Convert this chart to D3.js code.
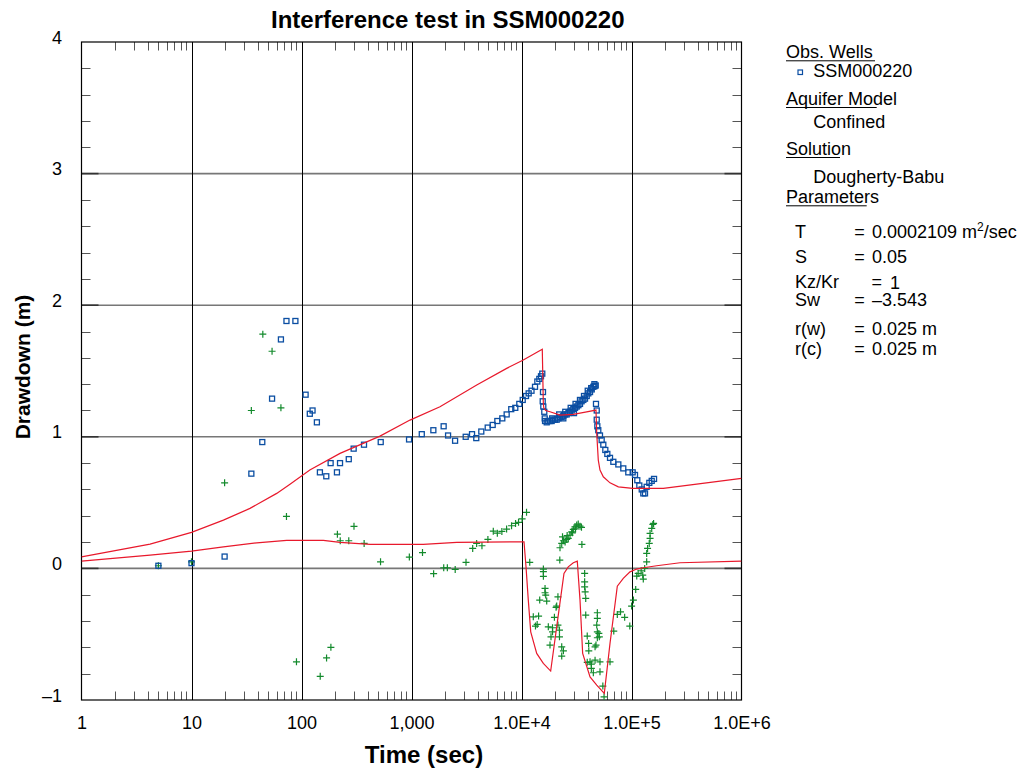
<!DOCTYPE html>
<html><head><meta charset="utf-8">
<script src="https://cdn.jsdelivr.net/npm/d3@7"></script>
<style>
body{margin:0;background:#fff}
svg{display:block}
text{font-family:"Liberation Sans",Arial,Helvetica,sans-serif;fill:#000}
</style>
</head><body>
<svg id="chart" width="1033" height="771"></svg>
<script>
// ---------- data ----------
const xTicks = [1, 10, 100, 1000, 1e4, 1e5, 1e6];
const xTickLabels = ["1", "10", "100", "1,000", "1.0E+4", "1.0E+5", "1.0E+6"];
const yTicks = [-1, 0, 1, 2, 3, 4];
const yTickLabels = ["\u20131", "0", "1", "2", "3", "4"];

// observed drawdown, SSM000220 (blue squares): [time sec, drawdown m]
const obsSquares = [
  [5,0.02],[10,0.04],[20,0.09],[35,0.72],[44,0.96],[54,1.29],[65,1.74],[73,1.88],[88,1.88],
  [109,1.32],[119,1.175],[126,1.2],[138,1.11],[147,0.73],[168,0.70],[184,0.80],[210,0.73],[224,0.80],
  [269,0.83],[298,0.91],[370,0.94],[525,0.96],[950,0.98],[1240,1.02],[1580,1.05],[1960,1.08],
  [2150,1.01],[2490,0.97],[3110,1.0],[3550,1.02],[3880,0.99],[4310,1.04],[4930,1.07],[5470,1.09],
  [6030,1.12],[6690,1.14],[7330,1.17],[8070,1.21],[8780,1.22],[9550,1.25],[10260,1.28],[10990,1.31],
  [11620,1.33],[12330,1.35],[13270,1.38],[13930,1.42],[14520,1.44],[15040,1.46],[15450,1.48],
  [15680,1.34],[15590,1.27],[15780,1.23],[16110,1.19],[16260,1.14],[16370,1.12],
  [16950,1.11],[17500,1.12],[18160,1.12],[18800,1.12],[19450,1.13],[20100,1.13],[20890,1.13],
  [21600,1.14],[22390,1.15],[23200,1.15],[23990,1.16],[24900,1.17],[25760,1.17],[26700,1.18],
  [27610,1.19],[28600,1.20],[29590,1.21],[30700,1.22],[31770,1.23],[32900,1.24],[34040,1.25],
  [35200,1.27],[36480,1.28],[37800,1.29],[39170,1.31],[40500,1.33],[41980,1.34],[43500,1.36],
  [44980,1.38],[46200,1.385],[47300,1.39],
  [19000,1.14],[22000,1.17],[24000,1.14],[25000,1.19],[28000,1.22],[30000,1.18],[31000,1.25],
  [34000,1.28],[37000,1.31],[40000,1.35],[43000,1.37],[46000,1.40],
  [47550,1.25],[48300,1.20],[48300,1.13],[48900,1.08],[49900,1.05],[51700,1.01],[53550,0.975],
  [55430,0.94],[57810,0.90],[60280,0.87],[63770,0.84],[68360,0.81],[75900,0.79],[84200,0.76],
  [93500,0.73],[102500,0.73],[107600,0.71],[112900,0.67],[117800,0.63],[123900,0.60],[128000,0.57],
  [132700,0.57],[137400,0.62],[145200,0.65],[152700,0.665],[160300,0.68]
];

// second observed series (green crosses): [time sec, drawdown m]
const obsCrosses = [
  [5,0.02],[10,0.05],[20,0.65],[35,1.2],[44.5,1.78],[54,1.65],[65,1.22],[73,0.395],[90,-0.71],
  [148,-0.82],[169,-0.68],[185,-0.6],[212,0.26],[225,0.21],[269,0.21],[300,0.32],[371,0.19],
  [523,0.05],[956,0.086],[1259,0.12],[1589,-0.04],[1963,0.005],[2118,0.005],[2496,-0.008],
  [3130,0.046],[3600,0.152],[3910,0.19],[4370,0.172],[4950,0.22],[5540,0.283],[6030,0.268],
  [6630,0.281],[7320,0.299],[8120,0.324],[8830,0.342],[9400,0.35],[10130,0.377],[11110,0.426],
  [11880,0.046],
  [15810,-0.005],[15810,-0.025],[15810,-0.06],[16370,-0.152],[16370,-0.185],[16600,-0.203],
  [14640,-0.241],[16950,-0.248],[12800,-0.368],[14300,-0.362],[13880,-0.426],[13400,-0.438],
  [21440,-0.216],[20630,-0.296],[20890,-0.286],[19920,-0.372],[21440,-0.431],[17530,-0.444],
  [19150,-0.451],[19150,-0.482],[18540,-0.52],[22140,-0.469],[22140,-0.52],[18160,-0.583],
  [23210,-0.596],[23210,-0.666],[24040,-0.626],
  [22290,0.063],[22390,0.157],[23210,0.19],[24040,0.21],[24900,0.2],[25760,0.22],[26600,0.228],
  [27610,0.253],[28600,0.278],[29590,0.296],[30600,0.316],[31770,0.329],[32800,0.337],
  [34040,0.321],[35100,0.312],[35400,0.182],[23600,0.24],[26000,0.25],[29000,0.27],[31000,0.30],
  [37500,-0.038],[37500,-0.102],[37500,-0.14],[37900,-0.178],[38360,-0.228],[38360,-0.355],
  [39590,-0.514],[40750,-0.57],[40900,-0.626],[39590,-0.714],[41980,-0.71],[43150,-0.727],
  [43150,-0.76],[44980,-0.793],[46640,-0.596],[47550,-0.583],[48920,-0.527],[48920,-0.482],
  [48300,-0.431],[48920,-0.337],[48920,-0.38],[46640,-0.697],[51700,-0.71],[51700,-0.786],
  [50500,-0.494],[51000,-0.52],[54890,-0.894],[56300,-0.976],[63770,-0.71],[69000,-0.476],
  [74300,-0.35],[79500,-0.33],[86650,-0.372],[96500,-0.438],[100200,-0.286],[104000,-0.241],
  [109200,-0.16],[111600,-0.058],[115000,-0.038],[122400,-0.018],[128000,-0.081],[126500,-0.051],
  [131800,0],[137400,0.05],[137400,0.114],[140000,0.152],[145000,0.19],[147500,0.228],
  [147500,0.266],[152700,0.304],[156300,0.334],[158800,0.342]
];

// Dougherty-Babu model curves: [time sec, drawdown m]
const fitUpper = [
  [1,0.088],[4.2,0.185],[10,0.274],[19.5,0.367],[34,0.456],[59.5,0.57],[78.6,0.64],[119,0.747],
  [224,0.874],[517,1.005],[969,1.127],[1815,1.228],[3917,1.393],[7331,1.52],[10380,1.583],
  [15450,1.666],[15790,1.254],[15950,1.22],[16600,1.2],[18160,1.19],[22390,1.165],[29560,1.17],
  [39140,1.19],[47550,1.203],[48300,1.026],[49900,0.823],[51700,0.747],[55430,0.696],[63770,0.65],
  [75900,0.62],[102500,0.608],[194500,0.608],[391500,0.641],[1e6,0.684]
];
const fitLower = [
  [1,0.055],[4.2,0.101],[10,0.131],[19.5,0.164],[39.2,0.194],[73.3,0.213],[158,0.213],[224,0.198],
  [420,0.182],[1280,0.182],[2576,0.198],[10540,0.202],[10990,0.012],[11530,-0.241],[12130,-0.482],
  [13750,-0.646],[15790,-0.722],[18420,-0.78],[20890,-0.444],[24330,-0.038],[26610,0.012],
  [29590,0.043],[32150,0.055],[34040,-0.241],[35980,-0.646],[41980,-0.824],[48300,-0.887],
  [56600,-0.95],[63770,-0.57],[74300,-0.135],[84200,-0.076],[96900,-0.026],[111500,-0.005],
  [128000,0.005],[169400,0.02],[276100,0.043],[1e6,0.055]
];

const paramNames = ["T", "S", "Kz/Kr", "Sw", "r(w)", "r(c)"];
const paramValues = ["0.0002109", "0.05", "1", "\u20133.543", "0.025 m", "0.025 m"];

// ---------- layout ----------
const svg = d3.select("#chart");
const L = 81.5, R = 741.5, T = 42, B = 700;
const x = d3.scaleLog().domain([1, 1e6]).range([L, R]);
const y = d3.scaleLinear().domain([-1, 4]).range([B, T]);

const BLUE = "#0b4ea2", GREEN = "#138a2c", RED = "#e8192c";

// grid: horizontal (gray) and vertical (black)
svg.append("g").selectAll("line").data(yTicks.filter(v => v > -1 && v < 4)).join("line")
  .attr("x1", L).attr("x2", R).attr("y1", d => y(d)).attr("y2", d => y(d))
  .attr("stroke", "#777").attr("stroke-width", 1.6);
svg.append("g").selectAll("line").data(xTicks.filter(v => v > 1 && v < 1e6)).join("line")
  .attr("y1", T).attr("y2", B).attr("x1", d => Math.round(x(d)) + 0.5).attr("x2", d => Math.round(x(d)) + 0.5)
  .attr("stroke", "#000").attr("stroke-width", 1);

// minor ticks
const minorX = x.ticks().filter(v => !xTicks.includes(v));
const gm = svg.append("g").attr("stroke", "#555").attr("stroke-width", 1);
minorX.forEach(v => {
  const px = Math.round(x(v)) + 0.5;
  gm.append("line").attr("x1", px).attr("x2", px).attr("y1", B).attr("y2", B - 8.5);
  gm.append("line").attr("x1", px).attr("x2", px).attr("y1", T).attr("y2", T + 8.5);
});
const minorY = y.ticks(25).filter(v => Math.abs(v - Math.round(v)) > 1e-6);
minorY.forEach(v => {
  const py = Math.round(y(v)) + 0.5;
  gm.append("line").attr("x1", L).attr("x2", L + 9).attr("y1", py).attr("y2", py);
  gm.append("line").attr("x1", R).attr("x2", R - 9).attr("y1", py).attr("y2", py);
});
// major y ticks (dark part at both ends)
yTicks.filter(v => v > -1 && v < 4).forEach(v => {
  gm.append("line").attr("x1", L).attr("x2", L + 17).attr("y1", y(v)).attr("y2", y(v)).attr("stroke", "#333").attr("stroke-width", 1.6);
  gm.append("line").attr("x1", R).attr("x2", R - 17).attr("y1", y(v)).attr("y2", y(v)).attr("stroke", "#333").attr("stroke-width", 1.6);
});

// frame
svg.append("rect").attr("x", L).attr("y", T).attr("width", R - L).attr("height", B - T)
  .attr("fill", "none").attr("stroke", "#000").attr("stroke-width", 1.2);

// axes labels through d3 axes
const ax = svg.append("g").attr("transform", `translate(0,${B})`)
  .call(d3.axisBottom(x).tickValues(xTicks).tickFormat((d, i) => xTickLabels[i]).tickSize(0).tickPadding(16));
ax.select(".domain").remove();
ax.selectAll("text").attr("font-size", 18).style("font-family", '"Liberation Sans",Arial,sans-serif').attr("fill", "#000");

const ay = svg.append("g").attr("transform", `translate(${L},0)`)
  .call(d3.axisLeft(y).tickValues(yTicks).tickFormat((d, i) => yTickLabels[i]).tickSize(0).tickPadding(19.5));
ay.select(".domain").remove();
ay.selectAll("text").attr("font-size", 18).attr("dy", 1).style("font-family", '"Liberation Sans",Arial,sans-serif').attr("fill", "#000");

// markers
svg.append("clipPath").attr("id", "pc").append("rect").attr("x", L).attr("y", T).attr("width", R - L).attr("height", B - T);
const plot = svg.append("g").attr("clip-path", "url(#pc)");

plot.append("g").selectAll("path").data(obsCrosses).join("path")
  .attr("d", d => `M${x(d[0]) - 3.5},${y(d[1])}h7M${x(d[0])},${y(d[1]) - 3.5}v7`)
  .attr("stroke", GREEN).attr("stroke-width", 1.2).attr("fill", "none");

plot.append("g").selectAll("rect").data(obsSquares).join("rect")
  .attr("x", d => x(d[0]) - 2.5).attr("y", d => y(d[1]) - 2.5).attr("width", 5).attr("height", 5)
  .attr("fill", "none").attr("stroke", BLUE).attr("stroke-width", 1.3);

// model curves
const line = d3.line().x(d => x(d[0])).y(d => y(d[1]));
[fitUpper, fitLower].forEach(f => {
  plot.append("path").attr("d", line(f)).attr("fill", "none").attr("stroke", RED).attr("stroke-width", 1.2);
});

// titles
svg.append("text").attr("x", 271).attr("y", 28.3).attr("text-anchor", "start")
  .attr("font-size", 24).attr("font-weight", "bold").text("Interference test in SSM000220");
svg.append("text").attr("x", 424).attr("y", 762.7).attr("text-anchor", "middle")
  .attr("font-size", 24).attr("font-weight", "bold").text("Time (sec)");
svg.append("text").attr("transform", "translate(29.5,367) rotate(-90)").attr("text-anchor", "middle")
  .attr("font-size", 21).attr("font-weight", "bold").text("Drawdown (m)");

// legend
const lg = svg.append("g").attr("font-size", 18);
const heads = [["Obs. Wells", 58.3, 89], ["Aquifer Model", 105, 90.7], ["Solution", 155, 54], ["Parameters", 203.3, 80.7]];
heads.forEach(h => {
  lg.append("text").attr("x", 786).attr("y", h[1]).text(h[0]);
  lg.append("line").attr("x1", 786).attr("x2", 786 + h[2]).attr("y1", h[1] + 2.5).attr("y2", h[1] + 2.5)
    .attr("stroke", "#000").attr("stroke-width", 1);
});
lg.append("rect").attr("x", 798).attr("y", 70).attr("width", 4.5).attr("height", 4.5)
  .attr("fill", "none").attr("stroke", BLUE).attr("stroke-width", 1.2);
lg.append("text").attr("x", 813.3).attr("y", 76.7).text("SSM000220");
lg.append("text").attr("x", 813.3).attr("y", 128.3).text("Confined");
lg.append("text").attr("x", 813.3).attr("y", 183.3).text("Dougherty-Babu");

const rowY = [237.5, 262.5, 287.5, 305.8, 335, 355];
paramNames.forEach((name, i) => {
  const isK = name === "Kz/Kr";
  lg.append("text").attr("x", 795).attr("y", rowY[i]).text(name);
  lg.append("text").attr("x", isK ? 871.5 : 854.3).attr("y", rowY[i]).text("=");
  const v = lg.append("text").attr("x", isK ? 890 : 872).attr("y", isK ? rowY[i] + 1 : rowY[i]).text(paramValues[i]);
  if (i === 0) {
    v.append("tspan").text(" m");
    v.append("tspan").attr("font-size", 12).attr("dy", -7).text("2");
    v.append("tspan").attr("dy", 7).text("/sec");
  }
});
</script>
</body></html>
